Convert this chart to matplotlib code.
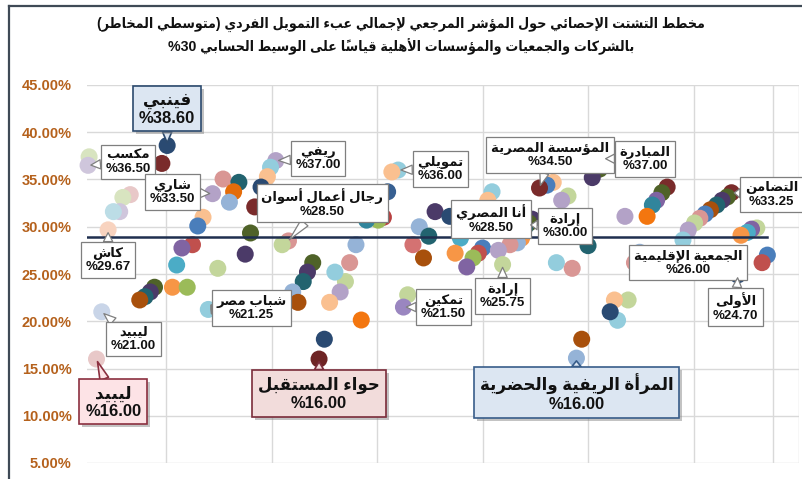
import unicodedata

import matplotlib
matplotlib.use("Agg")
import matplotlib.pyplot as plt
import matplotlib.patheffects as pe
from matplotlib.lines import Line2D

# ---- colours (Excel-like palette) ----
NAVY, DRED, OLIVE, DPURP, DTEAL = "#2a4a72", "#7a2b2b", "#4f6228", "#4b3a68", "#22636f"
BROWN, DORANGE, BORANGE = "#a8500c", "#e46c0a", "#f3760f"
BLUE, RED, GREEN, PURP, CYAN, ORANGE = "#4a7ebb", "#c0504d", "#9bbb59", "#8064a2", "#4bacc6", "#f79646"
LBLUE, PINK, PGREEN, LAV, LCYAN, PEACH = "#95b3d7", "#d99694", "#c3d69b", "#b3a2c7", "#93cddd", "#fac090"
PPINK, PPGREEN, PLAV, PBLUE, PCYAN, PPEACH = "#e8c8c8", "#d8e4c0", "#cfc6dc", "#c9d5e8", "#bcdde6", "#f8d3bf"

# ---- data (x = position index, y = percent) ----
x_vals = [7.6, 7.1, 0.2, 0.1, 4.1, 3.4, 3.1, 2.5, 2.0, 0.9, 1.4,
          6.4, 6.0, 5.5, 5.0, 8.1, 9.5, 8.5, 10.0, 9.0, 11.0, 10.5,
          12.9, 14.4, 13.9, 13.5, 11.9, 12.4, 11.5, 15.5, 15.0, 15.9,
          17.9, 17.4, 17.1, 16.5, 19.1, 18.5, 25.5, 24.9,
          21.4, 20.9, 20.5, 19.5, 20.0, 24.5, 23.5, 24.0, 23.0, 26.0, 22.5, 22.0,
          27.0, 28.1, 27.6, 26.5, 28.5, 29.5, 28.9,
          33.0, 34.4, 31.5, 32.4, 30.9, 31.9, 30.4, 30.0,
          38.4, 38.0, 35.4, 37.5, 37.1, 36.6, 34.9, 36.0,
          42.2, 41.9, 41.5, 41.2, 40.8, 40.1, 39.0, 39.4,
          44.2, 43.6, 42.9, 45.6, 45.0, 48.9, 48.6, 47.9, 47.5, 44.5, 46.0, 51.0,
          51.3, 50.0, 50.3, 49.6, 46.9, 46.4,
          55.0, 54.5, 54.0, 53.6, 53.1,
          61.1, 60.7, 60.2, 59.7, 59.1, 58.6, 58.1, 57.6, 57.0, 56.5,
          63.5, 63.0, 62.6, 62.0, 64.5, 64.0, 61.7, 52.4, 51.9]
y_vals = [38.6, 36.7, 37.4, 36.5, 33.4, 33.1, 31.6, 31.6, 29.67, 16.0, 21.0,
          23.6, 23.1, 22.6, 22.25, 23.6, 23.6, 25.95, 28.1, 27.75, 31.0, 30.08,
          35.05, 34.7, 33.7, 32.6, 33.5, 25.6, 21.25, 29.34, 27.1, 32.1,
          37.0, 36.3, 35.3, 34.2, 28.5, 28.1, 28.1, 26.2,
          26.2, 25.2, 24.2, 23.1, 22.0, 24.2, 25.2, 23.1, 22.0, 20.13, 18.1, 16.0,
          31.8, 31.0, 30.7, 30.7, 33.7, 36.0, 35.8,
          31.6, 31.1, 30.0, 29.0, 28.1, 26.7, 22.8, 21.5,
          33.7, 32.8, 28.8, 27.75, 27.2, 26.7, 27.2, 25.75,
          30.8, 30.4, 29.9, 28.8, 28.3, 28.1, 27.5, 26.0,
          34.7, 34.4, 34.1, 33.25, 32.8, 37.2, 36.1, 35.2, 28.0, 26.2, 25.6, 31.1,
          22.25, 22.25, 20.1, 21.0, 18.1, 16.1,
          34.2, 33.6, 32.8, 32.3, 31.1,
          33.6, 33.15, 32.8, 32.3, 31.8, 31.35, 30.9, 30.4, 29.65, 28.6,
          29.87, 29.75, 29.4, 29.1, 27.0, 26.2, 24.9, 27.3, 26.2]
point_colors = [NAVY, DRED, PPGREEN, PLAV, PPINK, PPGREEN, PLAV, PCYAN, PPEACH, PPINK, PBLUE,
                OLIVE, DPURP, DTEAL, BROWN, ORANGE, GREEN, CYAN, RED, PURP, PEACH, BLUE,
                PINK, DTEAL, DORANGE, LBLUE, LAV, PGREEN, LCYAN, OLIVE, DPURP, DRED,
                LAV, LCYAN, PEACH, NAVY, PINK, PGREEN, LBLUE, PINK,
                OLIVE, DPURP, DTEAL, LBLUE, BROWN, PGREEN, LCYAN, LAV, PEACH, BORANGE, NAVY, "#6e2424",
                "#5f4b8b", "#b84040", GREEN, "#31859c", "#376092", LCYAN, PEACH,
                DPURP, NAVY, LBLUE, DTEAL, "#d47272", BROWN, PGREEN, "#9a86c0",
                LCYAN, PEACH, CYAN, BLUE, RED, GREEN, ORANGE, PURP,
                DPURP, OLIVE, DTEAL, ORANGE, LBLUE, PINK, LAV, PGREEN,
                PEACH, BLUE, DRED, PGREEN, LAV, DRED, OLIVE, DPURP, DTEAL, LCYAN, PINK, LAV,
                PGREEN, PEACH, LCYAN, NAVY, BROWN, LBLUE,
                DRED, OLIVE, PURP, "#31859c", BORANGE,
                DRED, OLIVE, DPURP, DTEAL, BROWN, BLUE, PINK, PGREEN, LAV, LCYAN,
                PGREEN, PURP, CYAN, ORANGE, BLUE, RED, NAVY, LBLUE, PINK]

mean_line = 28.95
y_ticks = [5, 10, 15, 20, 25, 30, 35, 40, 45]
x_grid = [7.5, 17.5, 27.5, 37.5, 47.5, 57.5, 65.0, 67.5]

title_1 = "مخطط التشتت الإحصائي حول المؤشر المرجعي لإجمالي عبء التمويل الفردي (متوسطي المخاطر)"
title_2 = "بالشركات والجمعيات والمؤسسات الأهلية قياساً على الوسيط الحسابي"
title_2_value = "%30"

label_names = ["فينبي", "مكسب", "شاري", "كاش", "ليبيد", "ليبيد", "شباب مصر", "ريفي",
               "رجال أعمال أسوان", "تمويلي", "حواء المستقبل", "تمكين", "إرادة", "أنا المصري",
               "إرادة", "المؤسسة المصرية", "المبادرة", "التضامن", "الجمعية الإقليمية",
               "الأولى", "المرأة الريفية والحضرية"]
label_values = ["%38.60", "%36.50", "%33.50", "%29.67", "%21.00", "%16.00", "%21.25", "%37.00",
                "%28.50", "%36.00", "%16.00", "%21.50", "%25.75", "%28.50",
                "%30.00", "%34.50", "%37.00", "%33.25", "%26.00",
                "%24.70", "%16.00"]
label_points = [(7.6, 38.6), (0.1, 36.5), (11.9, 33.5), (2.0, 29.67), (1.4, 21.0), (0.9, 16.0),
                (11.5, 21.25), (17.9, 37.0), (19.0, 28.4), (29.5, 36.0), (22.0, 16.0),
                (30.0, 21.5), (39.4, 26.0), (35.4, 28.8), (41.8, 30.2), (42.9, 34.1),
                (48.9, 37.2), (61.1, 33.6), (51.9, 26.2), (61.7, 24.9), (46.4, 16.1)]
label_boxes = [(7.6, 42.4), (3.9, 36.85), (8.1, 33.7), (2.0, 26.5), (4.4, 18.1), (2.5, 11.45),
               (15.6, 21.4), (21.9, 37.2), (22.3, 32.5), (33.5, 36.1), (22.0, 12.3),
               (33.8, 21.5), (39.4, 22.7), (38.3, 30.8), (45.3, 30.1), (43.9, 37.6),
               (52.9, 37.2), (64.9, 33.4), (57.0, 26.2), (61.5, 21.5), (46.4, 12.4)]
# highlighted callouts: index -> (face, edge)
highlight = {0: ("#dce6f2", "#2c4a6e"), 5: ("#fde3e6", "#8b3040"),
             10: ("#f2dcdb", "#7b2c3a"), 20: ("#dce6f2", "#385d8a")}


# ---- minimal Arabic shaping (contextual forms + visual order) ----
def _form(ch, kind):
    try:
        return unicodedata.lookup(f"{unicodedata.name(ch)} {kind} FORM")
    except (KeyError, ValueError):
        return None


def _jtype(ch):
    if unicodedata.combining(ch):
        return "T"
    if _form(ch, "INITIAL"):
        return "D"
    if _form(ch, "FINAL"):
        return "R"
    return "U"


def ar(text):
    n = len(text)
    types = [_jtype(c) for c in text]

    def prev_joins(i):
        j = i - 1
        while j >= 0 and types[j] == "T":
            j -= 1
        return j >= 0 and types[j] == "D"

    def next_joins(i):
        j = i + 1
        while j < n and types[j] == "T":
            j += 1
        return j < n and types[j] in "DR"

    clusters = []
    i = 0
    while i < n:
        c, t = text[i], types[i]
        if t == "T":
            if clusters:
                clusters[-1] += c
            else:
                clusters.append(c)
            i += 1
            continue
        if c == "ل" and i + 1 < n and text[i + 1] in "اأإآ":
            alef = unicodedata.name(text[i + 1])[len("ARABIC LETTER "):]
            kind = "FINAL" if prev_joins(i) else "ISOLATED"
            clusters.append(unicodedata.lookup(f"ARABIC LIGATURE LAM WITH {alef} {kind} FORM"))
            i += 2
            continue
        if t in "DR":
            p = prev_joins(i)
            nx = t == "D" and next_joins(i)
            kind = {(True, True): "MEDIAL", (True, False): "FINAL",
                    (False, True): "INITIAL", (False, False): "ISOLATED"}[(p, nx)]
            clusters.append(_form(c, kind) or c)
        else:
            clusters.append({"(": ")", ")": "("}.get(c, c))
        i += 1
    return "".join(reversed(clusters))


FONT = ["Liberation Sans", "DejaVu Sans"]
TICK_COLOR = "#b5611c"

fig = plt.figure(figsize=(8.02, 4.79), dpi=100)
fig.patch.set_facecolor("white")
ax = fig.add_axes([87 / 802, 1 - 463 / 479, (799 - 87) / 802, (463 - 85) / 479])

ax.set_xlim(0, 67.5)
ax.set_ylim(5, 45)
for s in ax.spines.values():
    s.set_visible(False)
ax.set_xticks(x_grid)
ax.set_yticks(y_ticks)
ax.set_yticklabels([f"{v:.2f}%" for v in y_ticks], family=FONT, fontweight="bold",
                   fontsize=10.5, color=TICK_COLOR)
ax.tick_params(axis="x", length=0, labelbottom=False)
ax.tick_params(axis="y", length=0, pad=11)
ax.grid(True, color="#d9d9d9", lw=1.0)
ax.set_axisbelow(True)

ax.scatter(x_vals, y_vals, s=150, c=point_colors, linewidths=0, zorder=2, clip_on=False)
ax.plot([0, 64.5], [mean_line, mean_line], color="#1f2f4f", lw=1.8, zorder=3)

for k, (name, val, pt, box) in enumerate(zip(label_names, label_values, label_points, label_boxes)):
    if k in highlight:
        face, edge = highlight[k]
        fs, lw, tw = 12, 1.2, 0.55
    else:
        face, edge = "white", "#7f7f7f"
        fs, lw, tw = 9.5, 0.9, 0.7
    ann = ax.annotate(ar(name) + "\n" + val, xy=pt, xytext=box,
                      ha="center", va="center", multialignment="center",
                      family=FONT, fontweight="bold", fontsize=fs, color="#111111",
                      linespacing=1.15, zorder=5, annotation_clip=False,
                      bbox=dict(boxstyle="square,pad=0.35", fc=face, ec=edge, lw=lw),
                      arrowprops=dict(arrowstyle=f"wedge,tail_width={tw},shrink_factor=0.5",
                                      fc=face, ec=edge, lw=lw, shrinkA=0, shrinkB=2))
    if k in highlight:
        ann.get_bbox_patch().set_path_effects(
            [pe.withSimplePatchShadow(offset=(2, -2), shadow_rgbFace="#888888", alpha=0.5)])

# title: DejaVu's Arabic glyphs run wide, so fit the first line to a set width
t1 = fig.text(0.5, 1 - 24 / 479, ar(title_1), ha="center", va="center",
              family=FONT, fontweight="bold", fontstretch="condensed", fontsize=12,
              color="#111111")
t2 = fig.text(0.5, 1 - 47 / 479, title_2_value + " " + ar(title_2), ha="center", va="center",
              family=FONT, fontweight="bold", fontstretch="condensed", fontsize=12,
              color="#111111")
fig.canvas.draw()
title_size = 12 * 610 / t1.get_window_extent().width
t1.set_fontsize(title_size)
t2.set_fontsize(title_size)

# outer chart frame (left and top edges visible in the crop)
fig.add_artist(Line2D([9 / 802, 9 / 802], [0, 1 - 6 / 479], color="#3f4a56", lw=1.6,
                      transform=fig.transFigure))
fig.add_artist(Line2D([9 / 802, 1], [1 - 6 / 479, 1 - 6 / 479], color="#3f4a56", lw=1.6,
                      transform=fig.transFigure))

fig.savefig("out.png", dpi=100)
